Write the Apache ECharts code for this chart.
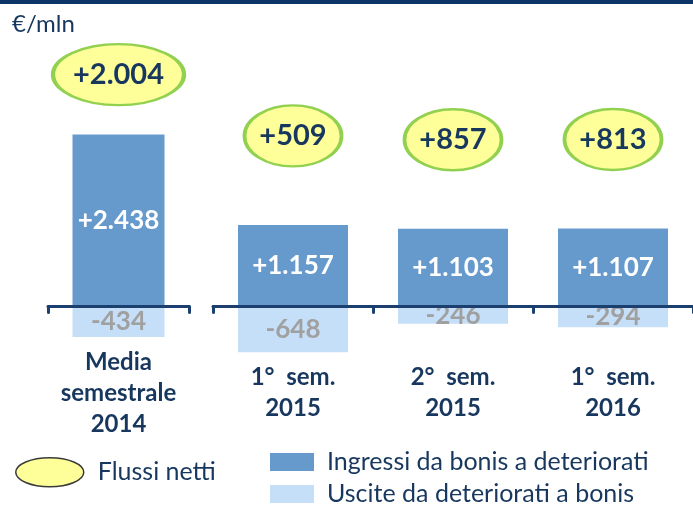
<!DOCTYPE html>
<html>
<head>
<meta charset="utf-8">
<script src="https://cdn.jsdelivr.net/npm/echarts@6/dist/echarts.min.js"></script>
<style>
  html, body { margin: 0; padding: 0; background: #fff; }
  #chart { width: 693px; height: 505px; }
</style>
</head>
<body>
<div id="chart"></div>
<script>
// Semiannual flows of impaired loans (€ millions)
const categoriesA = ['Media\nsemestrale\n2014'];
const categoriesB = ['1°  sem.\n2015', '2°  sem.\n2015', '1°  sem.\n2016'];

const ingressiA = [2438];              // Ingressi da bonis a deteriorati
const ingressiB = [1157, 1103, 1107];
const usciteA = [-434];                // Uscite da deteriorati a bonis
const usciteB = [-648, -246, -294];
const nettiA = [2004];                 // Flussi netti
const nettiB = [509, 857, 813];

const NAVY = '#17375E';
const AXIS_NAVY = '#1B3F6E';
const DARK_BLUE = '#6699CC';
const LIGHT_BLUE = '#C6DFF8';
const YELLOW = '#FFFF99';
const GREEN = '#92D050';
const FONT = 'Lato, "Noto Sans", sans-serif';

const NAME_IN = 'Ingressi da bonis a deteriorati';
const NAME_OUT = 'Uscite da deteriorati a bonis';
const NAME_NET = 'Flussi netti';

// Ellipse drawn as four cubic arcs so it stretches to any width/height
const ELLIPSE = 'path://M50,0 C77.6,0 100,22.4 100,50 C100,77.6 77.6,100 50,100 C22.4,100 0,77.6 0,50 C0,22.4 22.4,0 50,0 Z';

function fmt(v) {
  const s = Math.abs(v).toString().replace(/\B(?=(\d{3})+(?!\d))/g, '.');
  return (v < 0 ? '-' : '+') + s;
}

const chart = echarts.init(document.getElementById('chart'), null, { renderer: 'canvas' });

function xAxisFor(gridIndex, cats) {
  return {
    type: 'category',
    gridIndex: gridIndex,
    data: cats,
    z: 10,
    axisLine: { onZero: true, lineStyle: { color: AXIS_NAVY, width: 3, cap: 'round' } },
    axisTick: { show: true, length: 6, lineStyle: { color: AXIS_NAVY, width: 3, cap: 'round' } },
    axisLabel: {
      color: NAVY, fontFamily: FONT, fontWeight: 'bold', fontSize: 24,
      lineHeight: 31, margin: 16, verticalAlign: 'middle', interval: 0
    },
    splitLine: { show: false }
  };
}

function yAxisFor(gridIndex) {
  return { type: 'value', gridIndex: gridIndex, min: -1000, max: 3000, show: false, splitLine: { show: false } };
}

function barPair(idx, inVals, outVals, width) {
  return [
    {
      name: NAME_IN, type: 'bar', xAxisIndex: idx, yAxisIndex: idx,
      data: inVals, barWidth: width, barGap: '-100%',
      itemStyle: { color: DARK_BLUE },
      label: {
        show: true, position: 'inside', color: '#fff', fontFamily: FONT,
        fontWeight: 'bold', fontSize: 26, formatter: p => fmt(p.value)
      }
    },
    {
      name: NAME_OUT, type: 'bar', xAxisIndex: idx, yAxisIndex: idx,
      data: outVals, barWidth: width, barGap: '-100%',
      itemStyle: { color: LIGHT_BLUE },
      label: {
        show: true, position: 'inside', color: '#A0A0A0', fontFamily: FONT,
        fontWeight: 'bold', fontSize: 26, formatter: p => fmt(p.value)
      }
    }
  ];
}

function netSeries(idx, inVals, netVals, size, offsetY) {
  return {
    name: NAME_NET, type: 'scatter', xAxisIndex: idx, yAxisIndex: idx,
    data: inVals.map((v, i) => [i, v, netVals[i]]),
    symbol: ELLIPSE, symbolSize: size, symbolOffset: [0, offsetY],
    symbolKeepAspect: false,
    clip: false, z: 5,
    itemStyle: { color: YELLOW, borderColor: GREEN, borderWidth: 3, opacity: 1 },
    label: {
      show: true, position: 'inside',
      color: NAVY, fontFamily: FONT, fontWeight: 'bold', fontSize: 29,
      formatter: p => fmt(p.value[2])
    },
    emphasis: { disabled: true }
  };
}

const legendText = { color: NAVY, fontFamily: FONT, fontSize: 25, lineHeight: 26 };

const option = {
  backgroundColor: '#fff',
  animation: false,
  title: {
    text: '€/mln', left: 12, top: 12, padding: 0,
    textStyle: { color: NAVY, fontFamily: FONT, fontWeight: 'normal', fontSize: 24 }
  },
  graphic: [
    { type: 'rect', left: 0, top: 0, shape: { width: 693, height: 4 }, style: { fill: '#0A3566' } }
  ],
  legend: [
    {
      data: [{ name: NAME_NET, icon: ELLIPSE, itemStyle: { color: YELLOW, borderColor: '#3A3A3A', borderWidth: 1.5 } }],
      left: 15, top: 457, padding: 0,
      itemWidth: 68, itemHeight: 29,
      symbolKeepAspect: false,
      selectedMode: false,
      textStyle: Object.assign({ padding: [0, 0, 0, 9] }, legendText)
    },
    {
      data: [{ name: NAME_IN, icon: 'rect', itemStyle: { color: DARK_BLUE } }],
      left: 270, top: 449, padding: 0,
      itemWidth: 44, itemHeight: 18,
      selectedMode: false,
      textStyle: Object.assign({ padding: [0, 0, 0, 8] }, legendText)
    },
    {
      data: [{ name: NAME_OUT, icon: 'rect', itemStyle: { color: LIGHT_BLUE } }],
      left: 270, top: 481, padding: 0,
      itemWidth: 44, itemHeight: 18,
      selectedMode: false,
      textStyle: Object.assign({ padding: [0, 0, 0, 8] }, legendText)
    }
  ],
  grid: [
    { left: 48, width: 141, top: 95, height: 282 },
    { left: 213, width: 482, top: 95, height: 282 }
  ],
  xAxis: [xAxisFor(0, categoriesA), xAxisFor(1, categoriesB)],
  yAxis: [yAxisFor(0), yAxisFor(1)],
  series: [
    ...barPair(0, ingressiA, usciteA, 92),
    ...barPair(1, ingressiB, usciteB, 110),
    netSeries(0, ingressiA, nettiA, [131, 61], -60),
    netSeries(1, ingressiB, nettiB, [97, 61], -89)
  ]
};

chart.setOption(option);
</script>
</body>
</html>
